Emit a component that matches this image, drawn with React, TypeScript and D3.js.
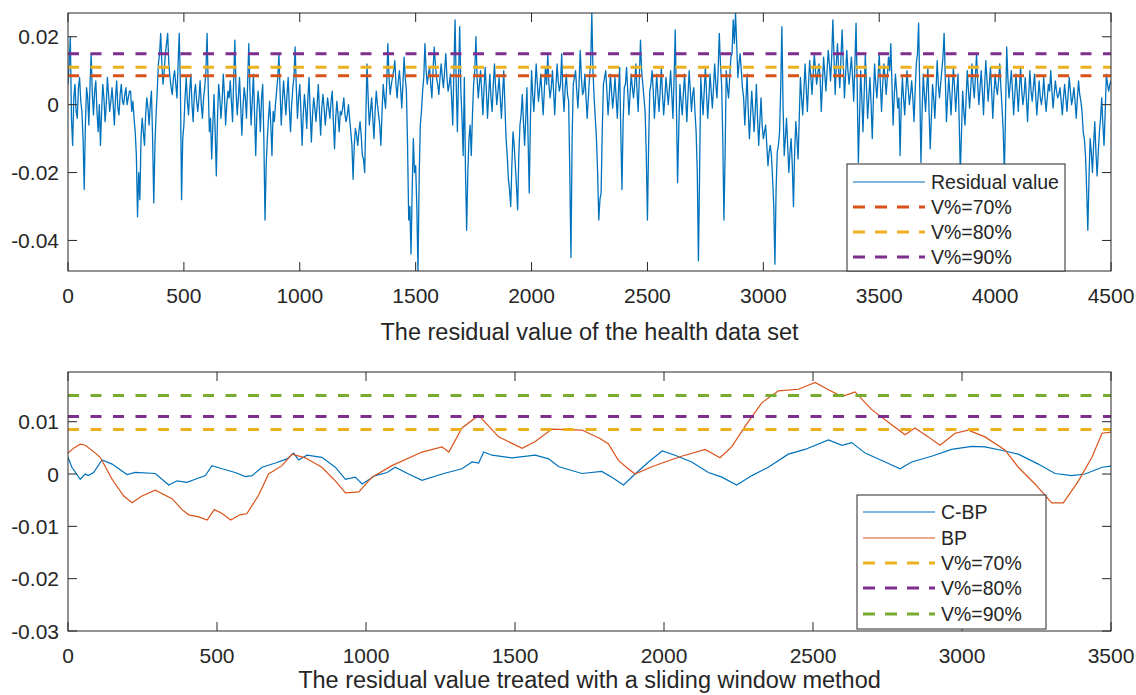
import React from 'react';
import * as d3 from 'd3';

// ---------- DATA ----------
// Residual value of the health data set, read every 10 samples (x = 0, 10, ..., 4500)
const residualStep = 10;
const residual = [
  0.006, 0.020, -0.012, 0.006, -0.004, 0.008, -0.002, -0.025, 0.005, -0.006,
  0.015, -0.003, 0.007, -0.008, -0.012, 0.006, -0.005, 0.008, -0.002, 0.005,
  -0.006, 0.007, -0.003, 0.006, 0.000, 0.005, 0.002, 0.004, 0.001, -0.008,
  -0.033, -0.028, -0.004, -0.012, 0.002, -0.006, 0.004, -0.029, -0.003, 0.012,
  0.021, 0.006, 0.015, 0.021, 0.008, 0.003, 0.010, 0.002, 0.021, -0.028,
  -0.006, 0.008, -0.003, 0.009, -0.005, 0.006, -0.002, 0.007, -0.004, 0.005,
  0.021, -0.008, -0.016, 0.003, -0.021, 0.006, -0.004, 0.009, -0.006, 0.004,
  0.007, -0.005, 0.019, -0.003, 0.008, -0.009, 0.005, -0.004, 0.018, -0.006,
  0.009, -0.015, 0.004, -0.008, 0.006, -0.034, -0.010, 0.001, -0.015, -0.005,
  0.004, 0.015, -0.006, 0.007, -0.003, 0.008, -0.008, 0.005, 0.017, -0.004,
  0.006, -0.012, 0.003, -0.007, 0.008, -0.011, 0.002, -0.005, 0.006, -0.009,
  0.003, -0.006, 0.002, -0.004, 0.004, -0.013, 0.001, -0.008, -0.003, 0.002,
  -0.005, 0.000, -0.008, -0.022, -0.007, -0.012, -0.005, -0.015, -0.020, 0.012,
  -0.006, 0.002, -0.010, 0.004, -0.003, -0.012, 0.006, -0.001, 0.018, 0.003,
  0.008, 0.013, 0.002, 0.010, -0.001, 0.014, 0.004, -0.034, -0.044, -0.010,
  -0.018, -0.049, -0.006, 0.004, 0.018, 0.006, 0.011, 0.002, 0.017, 0.008,
  0.003, 0.012, 0.005, 0.015, 0.004, 0.009, -0.006, 0.025, -0.008, 0.023,
  -0.004, 0.008, -0.037, -0.010, -0.015, 0.006, 0.020, 0.002, 0.010, -0.003,
  0.011, -0.004, 0.009, -0.002, 0.012, 0.000, 0.008, -0.004, 0.010, -0.010,
  -0.022, -0.030, -0.008, -0.018, -0.031, -0.006, 0.003, -0.012, 0.005, -0.026,
  0.010, -0.002, 0.012, 0.001, 0.009, -0.003, 0.011, 0.015, 0.002, 0.010,
  -0.003, 0.012, 0.004, 0.015, -0.002, 0.009, 0.001, -0.045, 0.006, 0.010,
  -0.001, 0.016, 0.003, 0.009, -0.004, 0.008, 0.027, 0.002, -0.010, -0.034,
  -0.026, 0.006, 0.010, -0.003, 0.009, -0.001, 0.008, -0.004, 0.011, -0.025,
  0.005, 0.011, -0.003, 0.009, 0.002, 0.012, -0.002, 0.019, 0.006, -0.002,
  -0.034, 0.004, 0.010, -0.004, 0.009, -0.002, 0.011, -0.003, 0.008, 0.000,
  0.010, -0.004, 0.022, -0.023, 0.006, -0.003, 0.009, -0.005, 0.010, -0.002,
  0.005, -0.008, -0.046, 0.008, -0.003, 0.011, -0.004, 0.009, -0.001, 0.012,
  0.002, 0.021, 0.006, -0.034, 0.010, 0.002, 0.014, 0.025, 0.027, 0.008,
  0.015, 0.005, -0.006, 0.009, -0.010, 0.004, -0.008, 0.006, -0.012, 0.002,
  -0.010, -0.006, -0.018, -0.012, -0.022, -0.047, -0.014, -0.008, 0.023, -0.015,
  -0.004, -0.020, -0.010, -0.030, -0.005, -0.016, 0.008, -0.003, 0.012, -0.002,
  0.013, 0.003, 0.015, 0.006, 0.012, -0.002, 0.014, 0.004, 0.016, 0.007,
  0.025, 0.003, 0.018, 0.005, 0.022, 0.002, 0.016, 0.006, 0.014, 0.001,
  0.024, -0.017, 0.010, -0.008, 0.015, -0.004, 0.008, -0.010, 0.012, 0.002,
  0.015, -0.002, 0.012, 0.003, 0.014, 0.018, -0.006, 0.009, -0.001, -0.015,
  0.008, -0.003, 0.010, 0.000, 0.007, -0.005, 0.012, 0.024, -0.017, 0.009,
  -0.002, 0.011, -0.013, 0.006, -0.004, 0.013, 0.002, 0.010, 0.021, -0.005,
  0.008, -0.003, 0.011, -0.002, 0.009, -0.020, 0.004, -0.006, 0.010, -0.001,
  0.012, 0.002, 0.015, 0.000, 0.010, -0.003, 0.013, 0.001, 0.011, -0.004,
  0.009, 0.003, 0.012, -0.001, -0.020, 0.017, 0.002, 0.010, -0.003, 0.009,
  -0.002, 0.011, 0.000, 0.008, -0.005, 0.010, 0.001, 0.009, -0.003, 0.007,
  0.000, 0.008, -0.002, 0.006, 0.010, -0.001, 0.007, 0.002, 0.005, -0.003,
  0.006, -0.002, 0.008, 0.000, 0.005, -0.004, 0.007, 0.001, -0.008, -0.015,
  -0.037, -0.010, -0.020, -0.005, -0.021, -0.008, 0.002, -0.012, 0.009, 0.004,
  0.007,
];
// Core-band readings between the samples above (x = 5, 15, ..., 4495)
const residualBetween = [
  0.012, -0.004, 0.002, -0.002, 0.005, 0.001, -0.010, -0.006, 0.002, 0.006,
  0.003, 0.004, -0.002, 0.000, -0.002, 0.002, 0.000, 0.003, 0.001, 0.000,
  0.002, -0.001, 0.003, 0.001, 0.003, 0.000, 0.004, -0.002, -0.004, -0.015,
  -0.020, -0.010, -0.008, -0.003, -0.001, 0.000, -0.010, -0.012, 0.004, 0.015,
  0.012, 0.010, 0.018, 0.012, 0.005, 0.008, 0.006, 0.012, 0.005, -0.010,
  0.002, 0.001, 0.004, 0.000, 0.003, 0.001, 0.002, 0.000, 0.002, 0.010,
  0.005, -0.004, -0.006, -0.008, -0.004, 0.002, 0.001, 0.003, 0.000, 0.002,
  0.001, 0.008, 0.004, 0.002, 0.000, -0.001, 0.002, 0.006, 0.004, 0.001,
  -0.003, -0.002, 0.000, 0.002, -0.010, -0.018, -0.004, -0.006, -0.002, 0.000,
  0.008, 0.004, 0.001, 0.002, 0.003, -0.001, 0.000, 0.008, 0.005, 0.002,
  -0.002, -0.003, -0.001, 0.002, -0.002, -0.003, -0.001, 0.000, -0.002, -0.001,
  -0.001, -0.002, -0.001, 0.001, -0.005, -0.004, -0.003, -0.002, -0.001, -0.003,
  -0.003, -0.004, -0.012, -0.012, -0.009, -0.008, -0.009, -0.016, -0.004, 0.002,
  -0.002, -0.004, -0.002, 0.000, -0.006, -0.002, 0.002, 0.006, 0.008, 0.006,
  0.010, 0.006, 0.007, 0.005, 0.006, 0.008, -0.012, -0.030, -0.025, -0.020,
  -0.030, -0.022, -0.002, 0.008, 0.010, 0.009, 0.006, 0.010, 0.012, 0.006,
  0.008, 0.008, 0.010, 0.008, 0.006, 0.002, 0.010, 0.006, 0.008, 0.004,
  -0.015, -0.020, -0.020, -0.006, -0.003, 0.010, 0.008, 0.006, 0.004, 0.005,
  0.004, 0.003, 0.002, 0.006, 0.005, 0.004, 0.002, 0.003, 0.000, -0.015,
  -0.025, -0.018, -0.012, -0.024, -0.015, -0.003, -0.005, -0.004, -0.010, -0.005,
  0.003, 0.005, 0.006, 0.005, 0.003, 0.004, 0.006, 0.006, 0.005, 0.004,
  0.005, 0.007, 0.006, 0.004, 0.005, 0.003, -0.020, -0.010, 0.008, 0.004,
  0.006, 0.008, 0.004, 0.002, 0.002, 0.012, 0.010, -0.004, -0.020, -0.028,
  -0.008, 0.008, 0.004, 0.002, 0.004, 0.003, 0.002, 0.004, -0.008, -0.005,
  0.006, 0.004, 0.003, 0.005, 0.006, 0.004, 0.008, 0.010, 0.002, -0.015,
  -0.012, 0.006, 0.004, 0.002, 0.003, 0.004, 0.003, 0.002, 0.004, 0.005,
  0.003, 0.008, 0.000, -0.008, 0.001, 0.003, 0.002, 0.003, 0.004, 0.003,
  -0.002, -0.020, -0.020, 0.002, 0.004, 0.003, 0.002, 0.004, 0.005, 0.006,
  0.010, 0.012, -0.010, -0.015, 0.005, 0.008, 0.015, 0.018, 0.018, 0.012,
  0.010, 0.002, 0.001, -0.002, -0.003, -0.002, -0.002, -0.004, -0.005, -0.006,
  -0.008, -0.012, -0.014, -0.015, -0.030, -0.025, -0.012, 0.005, 0.000, -0.010,
  -0.012, -0.014, -0.018, -0.014, -0.010, -0.004, 0.002, 0.004, 0.005, 0.006,
  0.008, 0.009, 0.010, 0.009, 0.008, 0.006, 0.009, 0.010, 0.012, 0.014,
  0.014, 0.012, 0.010, 0.014, 0.012, 0.009, 0.010, 0.010, 0.008, 0.012,
  0.005, -0.004, 0.002, 0.003, 0.005, 0.002, 0.000, 0.002, 0.006, 0.008,
  0.006, 0.006, 0.008, 0.008, 0.010, 0.006, 0.003, 0.004, 0.002, 0.000,
  0.002, 0.004, 0.005, 0.003, 0.002, 0.004, 0.015, 0.004, -0.002, 0.003,
  0.005, -0.002, -0.004, 0.002, 0.004, 0.006, 0.006, 0.014, 0.008, 0.002,
  0.003, 0.004, 0.005, 0.004, -0.005, -0.008, -0.002, 0.002, 0.004, 0.005,
  0.006, 0.008, 0.006, 0.005, 0.004, 0.006, 0.007, 0.006, 0.004, 0.003,
  0.005, 0.007, 0.005, -0.008, -0.002, 0.008, 0.006, 0.004, 0.003, 0.004,
  0.005, 0.004, 0.003, 0.002, 0.003, 0.004, 0.005, 0.003, 0.002, 0.002,
  0.003, 0.002, 0.002, 0.004, 0.004, 0.003, 0.004, 0.003, 0.001, 0.002,
  0.002, 0.003, 0.004, 0.002, 0.001, 0.002, 0.003, -0.002, -0.010, -0.025,
  -0.022, -0.014, -0.012, -0.014, -0.014, -0.004, -0.006, -0.002, 0.006, 0.006,
];

// Sliding-window residuals: [sample index, value]
const cbpPoints: [number, number][] = [
  [0, 0.0032], [13, 0.0013], [41, -0.001], [58, 0.0], [68, -0.0003], [86, 0.0003],
  [114, 0.0027], [148, 0.0019], [198, -0.0001], [226, 0.0003], [293, 0.0001],
  [338, -0.0021], [366, -0.0013], [399, -0.0016], [427, -0.001], [461, -0.0003],
  [483, 0.0016], [517, 0.001], [561, 0.0003], [595, -0.0005], [618, -0.0003],
  [651, 0.0013], [696, 0.0021], [735, 0.0029], [757, 0.004], [774, 0.0027],
  [802, 0.0036], [852, 0.0032], [897, 0.0013], [931, -0.001], [964, -0.0006],
  [987, -0.0019], [1031, -0.0003], [1071, 0.0003], [1098, 0.0013], [1143, 0.0],
  [1188, -0.0012], [1255, 0.0], [1322, 0.001], [1356, 0.0023], [1378, 0.0021],
  [1395, 0.0042], [1423, 0.0036], [1490, 0.0031], [1568, 0.0036], [1613, 0.0029],
  [1647, 0.0014], [1725, 0.0001], [1791, 0.0005], [1825, -0.0006], [1864, -0.0021],
  [1903, 0.0], [1948, 0.0023], [1994, 0.0044], [2037, 0.0036], [2093, 0.0023],
  [2149, 0.0003], [2194, -0.0006], [2244, -0.0021], [2295, -0.0003], [2350, 0.0013],
  [2417, 0.0038], [2473, 0.0047], [2552, 0.0065], [2597, 0.0055], [2630, 0.006],
  [2675, 0.004], [2742, 0.0023], [2792, 0.001], [2831, 0.0023], [2898, 0.0034],
  [2965, 0.0047], [3033, 0.0053], [3077, 0.0052], [3144, 0.0044], [3189, 0.0038],
  [3256, 0.0019], [3312, 0.0001], [3368, -0.0003], [3413, 0.0], [3470, 0.0013],
  [3500, 0.0015],
];

const bpPoints: [number, number][] = [
  [0, 0.004], [20, 0.005], [41, 0.0057], [58, 0.0055], [92, 0.004], [108, 0.0032],
  [148, -0.001], [187, -0.0042], [215, -0.0055], [248, -0.0042], [293, -0.0031],
  [349, -0.0047], [383, -0.0068], [405, -0.0078], [439, -0.0082], [467, -0.0088],
  [491, -0.0068], [516, -0.0075], [546, -0.0088], [577, -0.0078], [600, -0.0076],
  [640, -0.004], [673, 0.0], [718, 0.0016], [752, 0.0038], [796, 0.0031],
  [852, 0.0013], [897, -0.0013], [931, -0.0036], [976, -0.0034], [1020, -0.0006],
  [1087, 0.0016], [1188, 0.0042], [1255, 0.0052], [1278, 0.0042], [1322, 0.0088],
  [1378, 0.0112], [1445, 0.0071], [1524, 0.0049], [1568, 0.0062], [1624, 0.0086],
  [1725, 0.0084], [1785, 0.0068], [1813, 0.0058], [1847, 0.0026], [1880, 0.001],
  [1903, 0.0], [1959, 0.0014], [2003, 0.0023], [2059, 0.0034], [2138, 0.0047],
  [2188, 0.0031], [2227, 0.0052], [2272, 0.0091], [2328, 0.0136], [2384, 0.0159],
  [2451, 0.0162], [2507, 0.0175], [2552, 0.0161], [2597, 0.0148], [2641, 0.0157],
  [2697, 0.0123], [2764, 0.0094], [2809, 0.0075], [2842, 0.0088], [2887, 0.0071],
  [2926, 0.0055], [2977, 0.0078], [3021, 0.0084], [3077, 0.0071], [3144, 0.0046],
  [3189, 0.0013], [3245, -0.0019], [3301, -0.0055], [3340, -0.0055], [3391, -0.0013],
  [3436, 0.0032], [3470, 0.0078], [3500, 0.008],
];

const thresholds = [0.0085, 0.011, 0.015];
const thresholdLabels = ['V%=70%', 'V%=80%', 'V%=90%'];

const topXTicks = [0, 500, 1000, 1500, 2000, 2500, 3000, 3500, 4000, 4500];
const topYTicks = [-0.04, -0.02, 0, 0.02];
const bottomXTicks = [0, 500, 1000, 1500, 2000, 2500, 3000, 3500];
const bottomYTicks = [-0.03, -0.02, -0.01, 0, 0.01];
const bottomYDomain = [-0.03, 0.0195];

const topTitle = 'The residual value of the health data set';
const bottomTitle = 'The residual value treated with a sliding window method';

// ---------- STYLE ----------
const BLUE = '#0072BD';
const ORANGE = '#D95319';
const YELLOW = '#EDB120';
const PURPLE = '#7E2F8E';
const GREEN = '#77AC30';
const AXIS = '#262626';
const FONT = '"Liberation Sans", Arial, Helvetica, sans-serif';
const DASH = '11 11.5';

const W = 1136;
const H = 695;
const LEFT = 68;
const RIGHT = 1111;

type Rect = { x0: number; x1: number; y0: number; y1: number };

function AxesFrame({
  r, xs, ys, xTicks, yTicks,
}: { r: Rect; xs: d3.ScaleLinear<number, number>; ys: d3.ScaleLinear<number, number>; xTicks: number[]; yTicks: number[] }) {
  const tl = 9;
  return (
    <g>
      <rect x={r.x0} y={r.y0} width={r.x1 - r.x0} height={r.y1 - r.y0} fill="none" stroke={AXIS} strokeWidth={1} />
      {xTicks.map((t) => {
        const x = xs(t);
        return (
          <g key={'x' + t}>
            <line x1={x} x2={x} y1={r.y1} y2={r.y1 - tl} stroke={AXIS} strokeWidth={1} />
            <line x1={x} x2={x} y1={r.y0} y2={r.y0 + tl} stroke={AXIS} strokeWidth={1} />
            <text x={x} y={r.y1 + 32} textAnchor="middle" fontSize={21} fill={AXIS} fontFamily={FONT}>{String(t)}</text>
          </g>
        );
      })}
      {yTicks.map((t) => {
        const y = ys(t);
        return (
          <g key={'y' + t}>
            <line x1={r.x0} x2={r.x0 + tl} y1={y} y2={y} stroke={AXIS} strokeWidth={1} />
            <line x1={r.x1} x2={r.x1 - tl} y1={y} y2={y} stroke={AXIS} strokeWidth={1} />
            <text x={r.x0 - 9} y={y + 7.5} textAnchor="end" fontSize={21} fill={AXIS} fontFamily={FONT}>{String(t)}</text>
          </g>
        );
      })}
    </g>
  );
}

type LegendItem = { label: string; color: string; dashed: boolean; width: number };

function Legend({ x0, x1, y0, y1, rows, items }: { x0: number; x1: number; y0: number; y1: number; rows: number[]; items: LegendItem[] }) {
  return (
    <g>
      <rect x={x0} y={y0} width={x1 - x0} height={y1 - y0} fill="#fff" stroke={AXIS} strokeWidth={1} />
      {items.map((it, i) => (
        <g key={it.label}>
          <line
            x1={x0 + 6} x2={x0 + 78} y1={rows[i]} y2={rows[i]}
            stroke={it.color} strokeWidth={it.width}
            strokeDasharray={it.dashed ? '12 10' : undefined}
          />
          <text x={x0 + 84} y={rows[i] + 7} fontSize={19.5} fill={AXIS} fontFamily={FONT}>{it.label}</text>
        </g>
      ))}
    </g>
  );
}

export default function App() {
  // ---- top panel ----
  const topR: Rect = { x0: LEFT, x1: RIGHT, y0: 13, y1: 271 };
  const tx = d3.scaleLinear().domain([0, 4500]).range([topR.x0, topR.x1]);
  // merge the two sets of readings into one series ordered by sample index
  const residualPts: [number, number][] = [];
  residual.forEach((v, i) => {
    residualPts.push([i * residualStep, v]);
    if (i < residualBetween.length) residualPts.push([i * residualStep + residualStep / 2, residualBetween[i]]);
  });
  const ext = d3.extent(residualPts, (d) => d[1]) as [number, number];
  const ty = d3.scaleLinear().domain(ext).range([topR.y1, topR.y0]);
  const resLine = d3.line<[number, number]>().x((d) => tx(d[0])).y((d) => ty(d[1]));
  const topColors = [ORANGE, YELLOW, PURPLE];

  // ---- bottom panel ----
  const botR: Rect = { x0: LEFT, x1: RIGHT, y0: 372, y1: 631 };
  const bx = d3.scaleLinear().domain([0, 3500]).range([botR.x0, botR.x1]);
  const by = d3.scaleLinear().domain(bottomYDomain).range([botR.y1, botR.y0]);
  const pairLine = d3.line<[number, number]>().x((d) => bx(d[0])).y((d) => by(d[1]));
  const botColors = [YELLOW, PURPLE, GREEN];

  return (
    <svg width={W} height={H} style={{ position: 'absolute', left: 0, top: 0, background: '#fff' }}>
      <defs>
        <clipPath id="clipTop"><rect x={topR.x0} y={topR.y0} width={topR.x1 - topR.x0} height={topR.y1 - topR.y0} /></clipPath>
        <clipPath id="clipBot"><rect x={botR.x0} y={botR.y0} width={botR.x1 - botR.x0} height={botR.y1 - botR.y0} /></clipPath>
      </defs>
      <rect x={0} y={0} width={W} height={H} fill="#fff" />

      {/* top panel */}
      <g clipPath="url(#clipTop)">
        <path d={resLine(residualPts) || ''} fill="none" stroke={BLUE} strokeWidth={1.3} strokeLinejoin="round" />
        {thresholds.map((v, i) => (
          <line key={i} x1={tx(0)} x2={tx(4500)} y1={ty(v)} y2={ty(v)} stroke={topColors[i]} strokeWidth={3} strokeDasharray={DASH} />
        ))}
      </g>
      <AxesFrame r={topR} xs={tx} ys={ty} xTicks={topXTicks} yTicks={topYTicks} />
      <Legend
        x0={847} x1={1065} y0={164} y1={271}
        rows={[182, 207, 232, 257]}
        items={[
          { label: 'Residual value', color: BLUE, dashed: false, width: 1.2 },
          ...thresholdLabels.map((l, i) => ({ label: l, color: topColors[i], dashed: true, width: 3 })),
        ]}
      />
      <text x={(topR.x0 + topR.x1) / 2} y={340} textAnchor="middle" fontSize={23.5} fill={AXIS} fontFamily={FONT}>{topTitle}</text>

      {/* bottom panel */}
      <g clipPath="url(#clipBot)">
        <path d={pairLine(cbpPoints) || ''} fill="none" stroke={BLUE} strokeWidth={1.2} />
        <path d={pairLine(bpPoints) || ''} fill="none" stroke={ORANGE} strokeWidth={1.2} />
        {thresholds.map((v, i) => (
          <line key={i} x1={bx(0)} x2={bx(3500)} y1={by(v)} y2={by(v)} stroke={botColors[i]} strokeWidth={3} strokeDasharray={DASH} />
        ))}
      </g>
      <AxesFrame r={botR} xs={bx} ys={by} xTicks={bottomXTicks} yTicks={bottomYTicks} />
      <Legend
        x0={857} x1={1046} y0={495} y1={629}
        rows={[512, 538, 563, 588, 614]}
        items={[
          { label: 'C-BP', color: BLUE, dashed: false, width: 1.2 },
          { label: 'BP', color: ORANGE, dashed: false, width: 1.2 },
          ...thresholdLabels.map((l, i) => ({ label: l, color: botColors[i], dashed: true, width: 3 })),
        ]}
      />
      <text x={(botR.x0 + botR.x1) / 2} y={688} textAnchor="middle" fontSize={23.5} fill={AXIS} fontFamily={FONT}>{bottomTitle}</text>
    </svg>
  );
}
